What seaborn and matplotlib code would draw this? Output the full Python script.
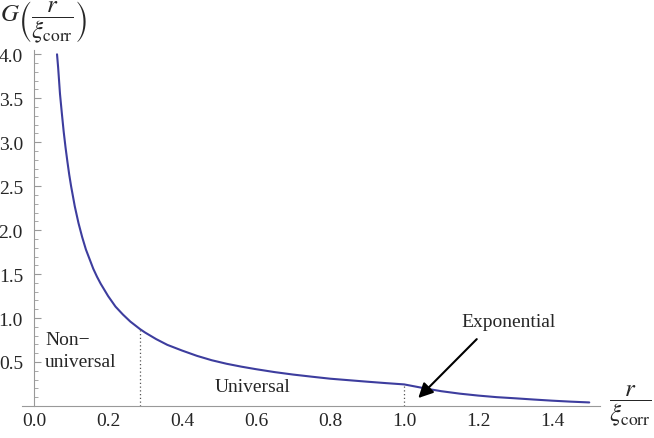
import numpy as np
import pandas as pd
import matplotlib
matplotlib.use("Agg")
import matplotlib.pyplot as plt
import seaborn as sns

r_vals = [0.062, 0.065, 0.07, 0.075, 0.08, 0.085, 0.09, 0.095, 0.10, 0.11, 0.12, 0.13,
          0.14, 0.15, 0.16, 0.17, 0.18, 0.19, 0.20, 0.22, 0.24, 0.26, 0.286, 0.30,
          0.33, 0.36, 0.40, 0.44, 0.48, 0.52, 0.56, 0.60, 0.65, 0.70, 0.75, 0.80,
          0.85, 0.90, 0.95, 1.00, 1.025, 1.05, 1.075, 1.10, 1.15, 1.20, 1.25, 1.30,
          1.35, 1.40, 1.45, 1.50]
g_vals = [4.00, 3.85, 3.55, 3.33, 3.12, 2.94, 2.78, 2.63, 2.50, 2.27, 2.08, 1.92,
          1.78, 1.67, 1.56, 1.47, 1.39, 1.32, 1.25, 1.13, 1.04, 0.96, 0.875, 0.835,
          0.76, 0.695, 0.63, 0.57, 0.52, 0.48, 0.447, 0.418, 0.385, 0.357, 0.333, 0.31,
          0.293, 0.276, 0.26, 0.245, 0.225, 0.205, 0.186, 0.168, 0.14, 0.118, 0.10, 0.087,
          0.073, 0.060, 0.049, 0.040]

# region borders (dotted lines)
border_r = [0.286, 1.0]
border_g = [0.875, 0.245]

x_ticks = [0.0, 0.2, 0.4, 0.6, 0.8, 1.0, 1.2, 1.4]
y_ticks = [0.5, 1.0, 1.5, 2.0, 2.5, 3.0, 3.5, 4.0]

sns.set_style("white")
plt.rcParams['font.family'] = ['Liberation Serif', 'DejaVu Serif']
plt.rcParams['mathtext.fontset'] = 'stix'

df = pd.DataFrame({'r': r_vals, 'G': g_vals})

fig = plt.figure(figsize=(6.54, 4.39), dpi=100)
ax = fig.add_axes([0.034, 0.073, 0.884, 0.811])

sns.lineplot(data=df, x='r', y='G', ax=ax, color='#3d3d9e', linewidth=1.5,
             estimator=None, sort=False)

for xb, yb in zip(border_r, border_g):
    ax.plot([xb, xb], [0, yb], color='#555555', linestyle=(0, (1, 2)), linewidth=0.9)

ax.set_xlim(-0.032, 1.53)
ax.set_ylim(0, 4.05)
ax.set_xlabel('')
ax.set_ylabel('')

# mathematica style axes
for s in ['top', 'right']:
    ax.spines[s].set_visible(False)
ax.spines['left'].set_position(('data', 0))
ax.spines['left'].set_color('#999999')
ax.spines['bottom'].set_color('#999999')
ax.spines['left'].set_linewidth(0.8)
ax.spines['bottom'].set_linewidth(0.8)

ax.set_xticks(x_ticks)
ax.set_xticklabels([f'{t:.1f}' for t in x_ticks])
ax.set_yticks(y_ticks)
ax.set_yticklabels([f'{t:.1f}' for t in y_ticks])
ax.set_xticks(np.arange(0.05, 1.51, 0.05), minor=True)
ax.set_yticks(np.arange(0.1, 4.01, 0.1), minor=True)
ax.tick_params(axis='both', which='major', direction='in', length=5, width=0.8,
               color='#999999', labelsize=14, pad=4)
ax.tick_params(axis='both', which='minor', direction='in', length=3, width=0.6,
               color='#999999')
ax.tick_params(axis='y', which='both', left=True, pad=8)

# axis labels
fig.text(0.0, 1.0, r'$G\left(\dfrac{r}{\xi_{\mathrm{corr}}}\right)$', fontsize=18,
         ha='left', va='top')
ax.text(1.553, 0.0, r'$\dfrac{r}{\xi_{\mathrm{corr}}}$', fontsize=18, ha='left', va='center',
        transform=ax.transData, clip_on=False)

# region annotations
ax.text(0.03, 0.76, 'Non\u2212', fontsize=14, ha='left', va='center')
ax.text(0.03, 0.50, 'universal', fontsize=14, ha='left', va='center')
ax.text(0.59, 0.216, 'Universal', fontsize=14, ha='center', va='center')
ax.text(1.281, 0.966, 'Exponential', fontsize=14, ha='center', va='center')
ax.annotate('', xy=(1.038, 0.09), xytext=(1.196, 0.76),
            arrowprops=dict(arrowstyle='-|>', color='black', lw=1.5,
                            mutation_scale=22, shrinkA=0, shrinkB=0))

fig.savefig('out.png', dpi=100)
